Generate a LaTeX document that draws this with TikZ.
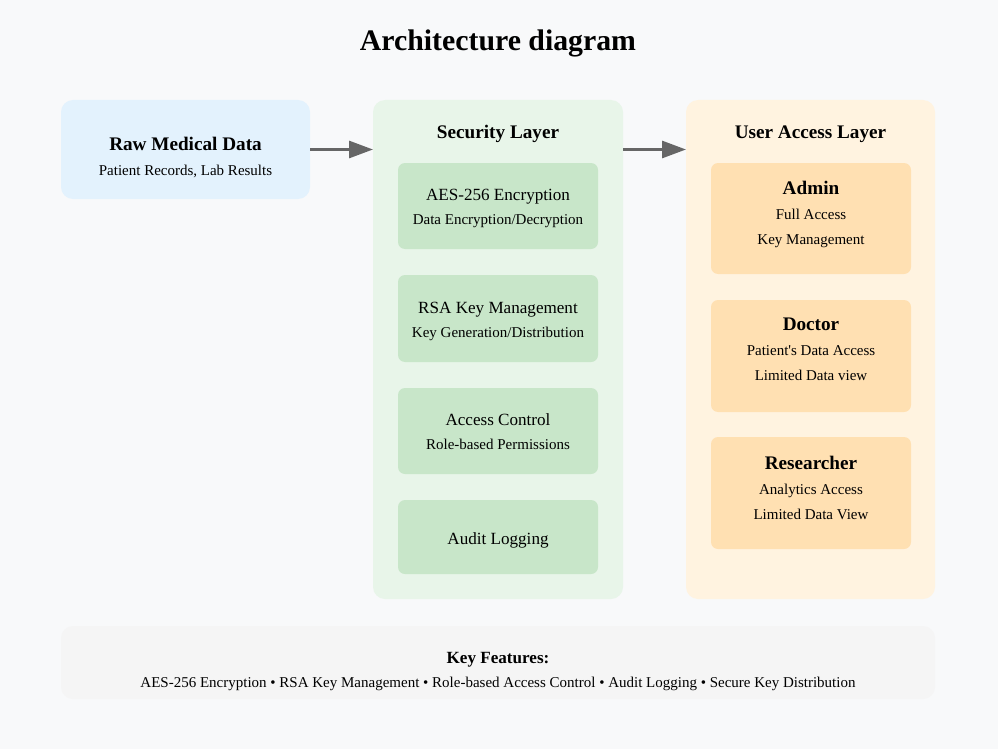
\documentclass[tikz,border=0pt]{standalone}
\usepackage{fontspec}
\setmainfont{Liberation Serif}[Ligatures=TeXOff]
\usetikzlibrary{arrows.meta}
\definecolor{bgc}{HTML}{F8F9FA}
\definecolor{rawc}{HTML}{E3F2FD}
\definecolor{secc}{HTML}{E8F5E9}
\definecolor{secin}{HTML}{C8E6C9}
\definecolor{usrc}{HTML}{FFF3E0}
\definecolor{usrin}{HTML}{FFE0B2}
\definecolor{footc}{HTML}{F5F5F5}
\definecolor{arrc}{HTML}{666666}
\definecolor{txtc}{HTML}{000000}
\newcommand{\fsz}[1]{\fontsize{#1}{#1}\selectfont}
\begin{document}
\begin{tikzpicture}[x=1pt,y=-1pt,
  panel/.style={draw=none,inner sep=0pt,outer sep=0pt,rounded corners=12pt},
  inbox/.style={draw=none,inner sep=0pt,outer sep=0pt,rounded corners=7pt,minimum width=200pt},
  txt/.style={anchor=base,inner sep=0pt,text=txtc},
  ttl/.style={txt,font=\bfseries\fsz{19.2}},
  big/.style={txt,font=\fsz{17.1}},
  sml/.style={txt,font=\fsz{15}},
  arr/.style={draw=arrc,line width=3pt,-{Triangle[length=24pt,width=17pt]}}]
\fill[bgc] (0,0) rectangle (998,749);
\useasboundingbox (0,0) rectangle (998,749);

\node[txt,font=\bfseries\fsz{29.8}] (title) at (498,50.5) {Architecture diagram};

% raw data
\node[panel,fill=rawc,minimum width=249pt,minimum height=99pt] (raw) at (185.5,149.5) {};
\node[ttl] (rawt) at (185.5,150) {Raw Medical Data};
\node[sml] (raws) at (185.5,175) {Patient Records, Lab Results};

% security layer
\node[panel,fill=secc,minimum width=250pt,minimum height=499pt] (sec) at (498,349.5) {};
\node[ttl] (sect) at (498,138.3) {Security Layer};
\node[inbox,fill=secin,minimum height=86pt] (s1) at (498,206) {};
\node[big] (s1t) at (498,200) {AES-256 Encryption};
\node[sml] (s1s) at (498,224.3) {Data Encryption/Decryption};
\node[inbox,fill=secin,minimum height=87pt] (s2) at (498,318.5) {};
\node[big] (s2t) at (498,313.3) {RSA Key Management};
\node[sml] (s2s) at (498,337.7) {Key Generation/Distribution};
\node[inbox,fill=secin,minimum height=86pt] (s3) at (498,431) {};
\node[big] (s3t) at (498,425) {Access Control};
\node[sml] (s3s) at (498,449.3) {Role-based Permissions};
\node[inbox,fill=secin,minimum height=74pt] (s4) at (498,537) {};
\node[big] (s4t) at (498,544) {Audit Logging};

% user access layer
\node[panel,fill=usrc,minimum width=249pt,minimum height=499pt] (usr) at (810.5,349.5) {};
\node[ttl] (usrt) at (810.5,138.3) {User Access Layer};
\node[inbox,fill=usrin,minimum height=111pt] (u1) at (811,218.5) {};
\node[ttl] (u1t) at (811,194) {Admin};
\node[sml] (u1a) at (811,219) {Full Access};
\node[sml] (u1b) at (811,244) {Key Management};
\node[inbox,fill=usrin,minimum height=112pt] (u2) at (811,356) {};
\node[ttl] (u2t) at (811,330.7) {Doctor};
\node[sml] (u2a) at (811,355.7) {Patient's Data Access};
\node[sml] (u2b) at (811,380.7) {Limited Data view};
\node[inbox,fill=usrin,minimum height=112pt] (u3) at (811,493) {};
\node[ttl] (u3t) at (811,469.3) {Researcher};
\node[sml] (u3a) at (811,494) {Analytics Access};
\node[sml] (u3b) at (811,519) {Limited Data View};

% arrows
\coordinate (a1) at (raw.east);
\coordinate (a2) at (sec.east |- raw.east);
\draw[arr] (a1) -- (a1 -| sec.west);
\draw[arr] (a2) -- (a2 -| usr.west);

% footer
\node[panel,fill=footc,minimum width=874pt,minimum height=73pt] (foot) at (498,662.5) {};
\node[txt,font=\bfseries\fsz{17.1}] (foott) at (498,663.3) {Key Features:};
\node[sml] (foots) at (498,687.3) {AES-256 Encryption • RSA Key Management • Role-based Access Control • Audit Logging • Secure Key Distribution};
\end{tikzpicture}
\end{document}
